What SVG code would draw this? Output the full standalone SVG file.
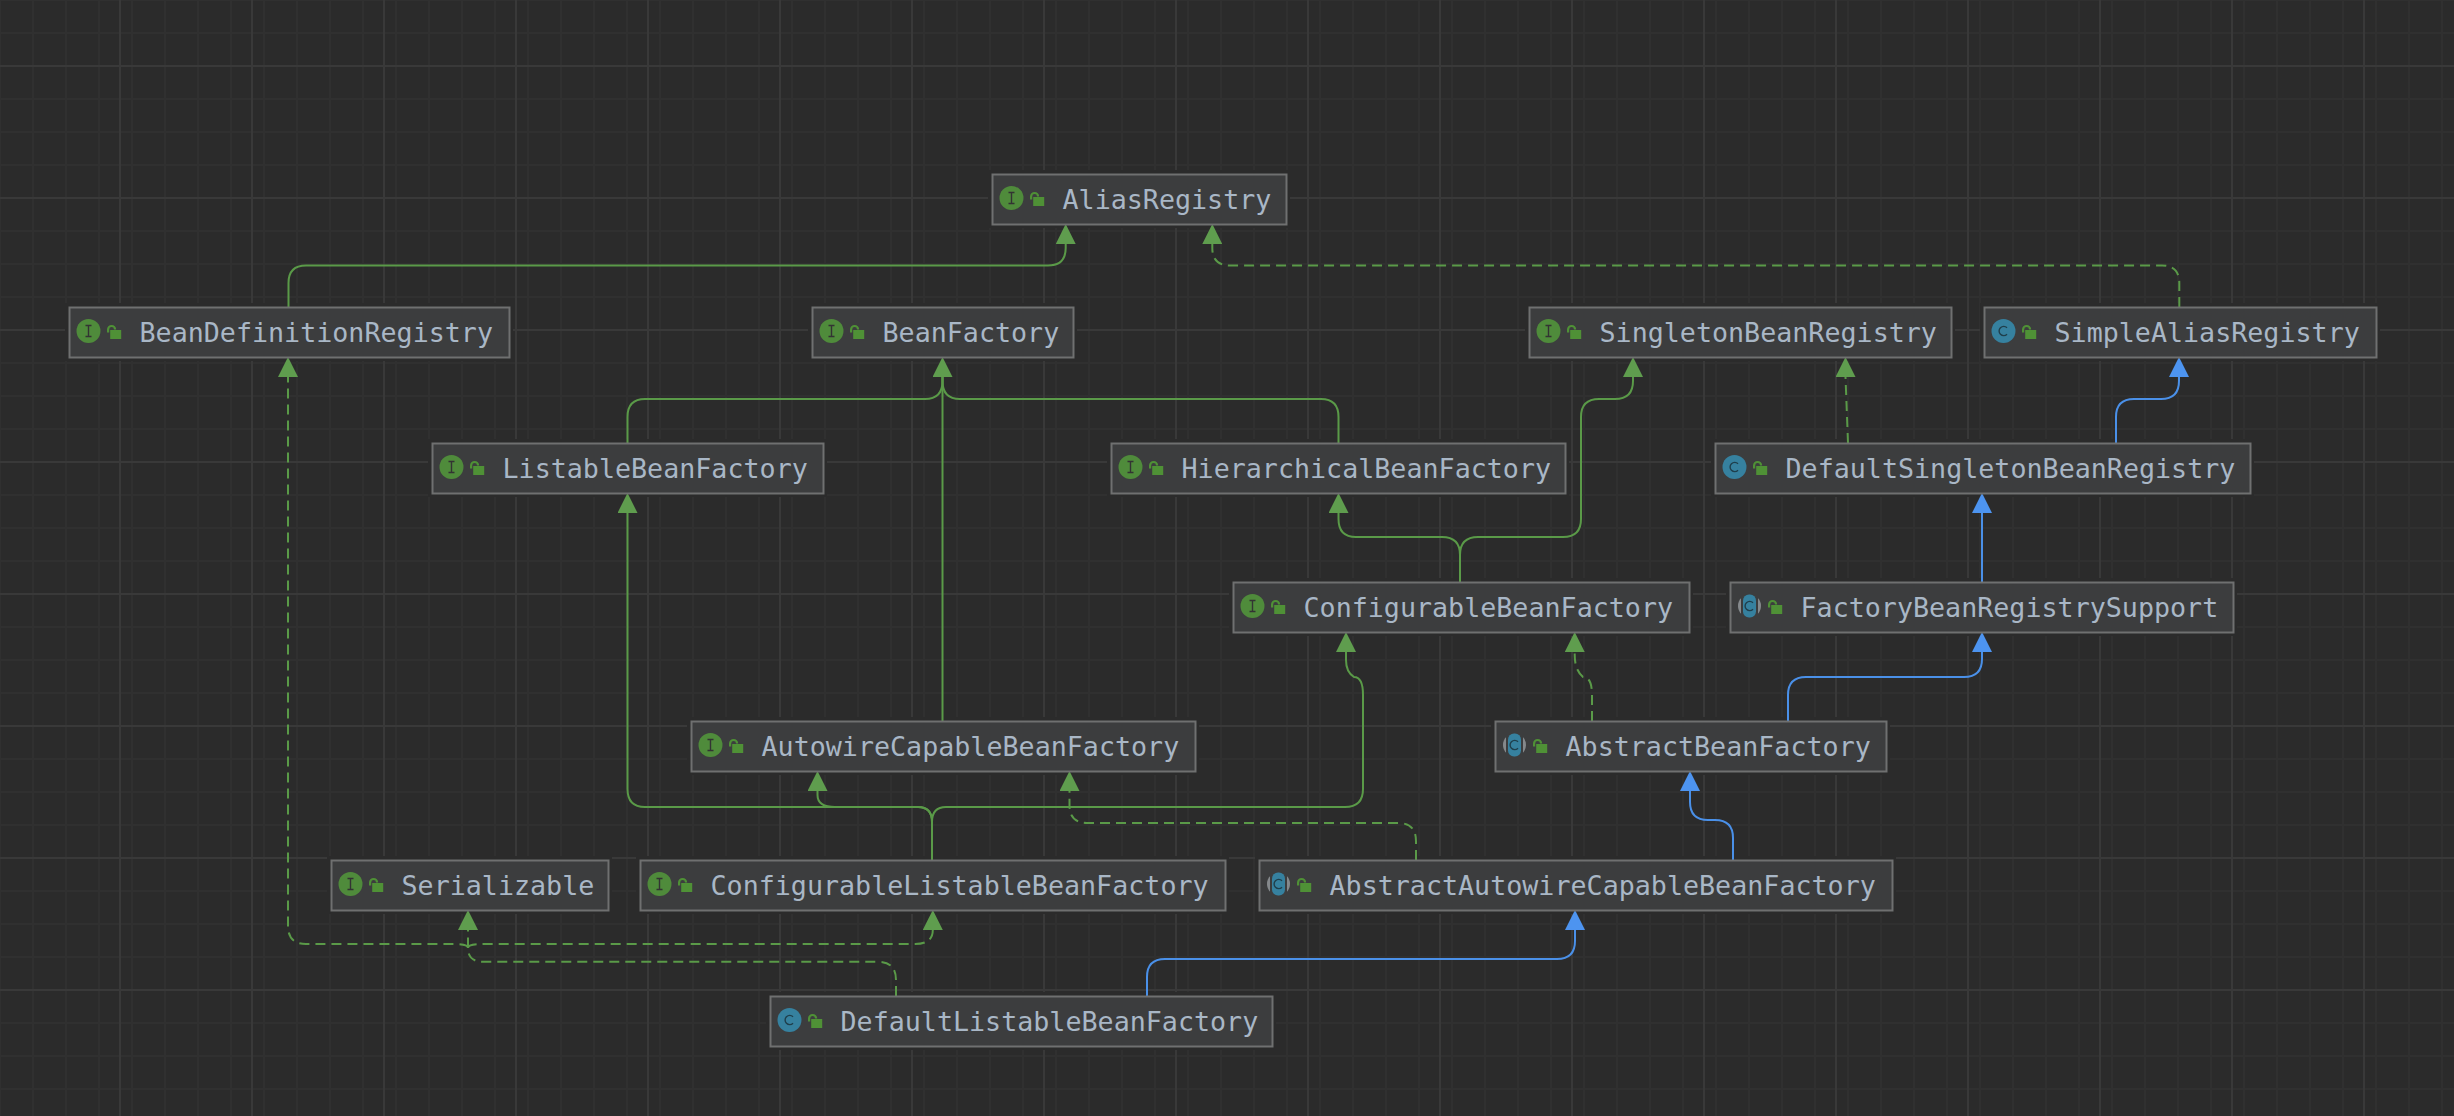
<svg xmlns="http://www.w3.org/2000/svg" width="2454" height="1116" viewBox="0 0 2454 1116">
<style>
.n{fill:#3c3d3e;stroke:#6f7070;stroke-width:2;transform:translate(.5px,.5px)}
.h{fill:#2b2b2b}
.t{font-family:"DejaVu Sans Mono","Liberation Mono",monospace;font-size:26.7px;fill:#a9b7c6}
.c{fill:none;stroke-width:2}
.g{stroke:#5a9a48}.b{stroke:#4a90e8}.d{stroke-dasharray:10 6}
.ag{marker-end:url(#ag)}.ab{marker-end:url(#ab)}
.lk{fill:#4f9136}.lks{fill:none;stroke:#4f9136;stroke-width:2.2}
.ci{fill:#4f8b3b}.cb{fill:#36819f}
</style>
<defs>
<pattern id="gr" width="132" height="132" patternUnits="userSpaceOnUse" x="-12" y="-66">
<path d="M12 0V132M45 0V132M78 0V132M111 0V132M0 0H132M0 33H132M0 66H132M0 99H132" fill="none" stroke="#303030" stroke-width="2"/>
</pattern>
<marker id="ag" markerUnits="userSpaceOnUse" markerWidth="20" markerHeight="20" refX="10" refY="20" viewBox="0 0 20 20" orient="0"><path d="M0 20L10 0L20 20Z" fill="#5f9d4e"/></marker>
<marker id="ab" markerUnits="userSpaceOnUse" markerWidth="20" markerHeight="20" refX="10" refY="20" viewBox="0 0 20 20" orient="0"><path d="M0 20L10 0L20 20Z" fill="#4d94f0"/></marker>
<g id="lock"><path class="lks" d="M1.100 7.500V4.500a3.500 3.500 0 0 1 7 0"/><rect class="lk" x="3.200" y="5" width="11" height="9"/></g>
<g id="ii"><circle class="ci" r="12"/><path d="M-3 -5.500H3M-3 5.500H3M0 -5.500V5.500" stroke="#333" stroke-width="1.400" fill="none"/></g>
<g id="cc"><circle class="cb" r="12"/><path d="M3.500 -3.200A4.600 4.600 0 1 0 3.500 3.200" stroke="#1f3f4c" stroke-width="1.400" fill="none"/></g>
<g id="ac"><circle r="11.500" fill="#85898c"/><rect x="-8.500" y="-12" width="17" height="24" fill="#3c3d3e"/><rect class="cb" x="-6.500" y="-11.500" width="13" height="23" rx="6"/><path d="M3.500 -3.200A4.600 4.600 0 1 0 3.500 3.200" stroke="#1f3f4c" stroke-width="1.400" fill="none"/></g>
</defs>
<rect width="2454" height="1116" fill="#2b2b2b"/>
<rect width="2454" height="1116" fill="url(#gr)"/>
<path fill="none" stroke="#393939" stroke-width="2" d="M120 0V1116M252 0V1116M384 0V1116M516 0V1116M648 0V1116M780 0V1116M912 0V1116M1044 0V1116M1176 0V1116M1308 0V1116M1440 0V1116M1572 0V1116M1704 0V1116M1836 0V1116M1968 0V1116M2100 0V1116M2232 0V1116M2364 0V1116M0 66H2454M0 198H2454M0 330H2454M0 462H2454M0 594H2454M0 726H2454M0 858H2454M0 990H2454"/>
<g id="halos" class="h">
<rect x="988" y="170" width="302" height="58"/><rect x="65" y="303" width="448" height="58"/><rect x="808" y="303" width="269" height="58"/><rect x="1525" y="303" width="430" height="58"/><rect x="1980" y="303" width="400" height="58"/><rect x="428" y="439" width="399" height="58"/><rect x="1107" y="439" width="462" height="58"/><rect x="1711" y="439" width="543" height="58"/><rect x="1229" y="578" width="464" height="58"/><rect x="1726" y="578" width="511" height="58"/><rect x="687" y="717" width="512" height="58"/><rect x="1491" y="717" width="399" height="58"/><rect x="327" y="856" width="285" height="58"/><rect x="636" y="856" width="593" height="58"/><rect x="1255" y="856" width="641" height="58"/><rect x="766" y="992" width="510" height="58"/>
</g>
<g id="connectors">
<path class="c g ag" d="M288.500 307V283Q288.500 265.500 306 265.500H1048Q1065.700 265.500 1065.700 248V244"/>
<path class="c g d ag" d="M2179.300 307V283Q2179.300 265.500 2162 265.500H1230Q1212.300 265.500 1212.300 248V244"/>
<path class="c g" d="M627.500 443V417Q627.500 399 645 399H925Q942.500 399 942.500 381V377"/>
<path class="c g" d="M1338.500 443V417Q1338.500 399 1321 399H960Q942.500 399 942.500 381V377"/>
<path class="c g ag" d="M942.500 721V377"/>
<path class="c g ag" d="M1460 582V555Q1460 537 1442 537H1356Q1338.500 537 1338.500 519V513"/>
<path class="c g ag" d="M1460 582V555Q1460 537 1478 537H1563Q1581 537 1581 519V417Q1581 399 1599 399H1615Q1633 399 1633 381V377"/>
<path class="c g d ag" d="M1848 443L1845.500 377"/>
<path class="c b ab" d="M2116 443V417Q2116 399 2134 399H2161Q2179 399 2179 381V377"/>
<path class="c b ab" d="M1982 582V513"/>
<path class="c b ab" d="M1788 721V695Q1788 677 1806 677H1964Q1982 677 1982 659V652"/>
<path class="c g d ag" d="M1592 721V695Q1592 677 1583 677Q1574.700 670 1574.700 655V652"/>
<path class="c b ab" d="M1733 860V838Q1733 820 1715 820H1708Q1690 820 1690 802V791"/>
<path class="c g d ag" d="M1416 860V841Q1416 823 1398 823H1087Q1069.500 823 1069.500 805V791"/>
<path class="c g ag" d="M932 860V822Q932 807 918 807H835Q817.500 807 817.500 795V791"/>
<path class="c g ag" d="M932 860V822Q932 807 918 807H645Q627.500 807 627.500 789V513"/>
<path class="c g ag" d="M932 860V822Q932 807 946 807H1345Q1363 807 1363 789V695Q1363 677 1354 677Q1346 672 1346 660V652"/>
<path class="c b ab" d="M1147 996V977Q1147 959 1165 959H1557Q1575 959 1575 941V930"/>
<path class="c g d ag" d="M896 996V980Q896 961.700 878 961.700H483Q468 961.700 468 948V930"/>
<path class="c g d ag" d="M468 948Q468 944 454 944H306Q288 944 288 926V377"/>
<path class="c g d ag" d="M468 948Q468 944 484 944H915Q932.800 944 932.800 930"/>
</g>
<g id="n-alias"><rect class="n" x="992" y="174" width="294" height="50"/><use href="#ii" x="1011.500" y="198"/><use href="#lock" x="1030" y="192"/><text class="t" x="1062.500" y="209">AliasRegistry</text></g>
<g id="n-bdr"><rect class="n" x="69" y="307" width="440" height="50"/><use href="#ii" x="88.500" y="331"/><use href="#lock" x="107" y="325"/><text class="t" x="139.500" y="342">BeanDefinitionRegistry</text></g>
<g id="n-bf"><rect class="n" x="812" y="307" width="261" height="50"/><use href="#ii" x="831.500" y="331"/><use href="#lock" x="850" y="325"/><text class="t" x="882.500" y="342">BeanFactory</text></g>
<g id="n-sbr"><rect class="n" x="1529" y="307" width="422" height="50"/><use href="#ii" x="1548.500" y="331"/><use href="#lock" x="1567" y="325"/><text class="t" x="1599.500" y="342">SingletonBeanRegistry</text></g>
<g id="n-sar"><rect class="n" x="1984" y="307" width="392" height="50"/><use href="#cc" x="2003.500" y="331"/><use href="#lock" x="2022" y="325"/><text class="t" x="2054.500" y="342">SimpleAliasRegistry</text></g>
<g id="n-lbf"><rect class="n" x="432" y="443" width="391" height="50"/><use href="#ii" x="451.500" y="467"/><use href="#lock" x="470" y="461"/><text class="t" x="502.500" y="478">ListableBeanFactory</text></g>
<g id="n-hbf"><rect class="n" x="1111" y="443" width="454" height="50"/><use href="#ii" x="1130.500" y="467"/><use href="#lock" x="1149" y="461"/><text class="t" x="1181.500" y="478">HierarchicalBeanFactory</text></g>
<g id="n-dsbr"><rect class="n" x="1715" y="443" width="535" height="50"/><use href="#cc" x="1734.500" y="467"/><use href="#lock" x="1753" y="461"/><text class="t" x="1785.500" y="478">DefaultSingletonBeanRegistry</text></g>
<g id="n-cbf"><rect class="n" x="1233" y="582" width="456" height="50"/><use href="#ii" x="1252.500" y="606"/><use href="#lock" x="1271" y="600"/><text class="t" x="1303.500" y="617">ConfigurableBeanFactory</text></g>
<g id="n-fbrs"><rect class="n" x="1730" y="582" width="503" height="50"/><use href="#ac" x="1749.500" y="606"/><use href="#lock" x="1768" y="600"/><text class="t" x="1800.500" y="617">FactoryBeanRegistrySupport</text></g>
<g id="n-acbf"><rect class="n" x="691" y="721" width="504" height="50"/><use href="#ii" x="710.500" y="745"/><use href="#lock" x="729" y="739"/><text class="t" x="761.500" y="756">AutowireCapableBeanFactory</text></g>
<g id="n-abf"><rect class="n" x="1495" y="721" width="391" height="50"/><use href="#ac" x="1514.500" y="745"/><use href="#lock" x="1533" y="739"/><text class="t" x="1565.500" y="756">AbstractBeanFactory</text></g>
<g id="n-ser"><rect class="n" x="331" y="860" width="277" height="50"/><use href="#ii" x="350.500" y="884"/><use href="#lock" x="369" y="878"/><text class="t" x="401.500" y="895">Serializable</text></g>
<g id="n-clbf"><rect class="n" x="640" y="860" width="585" height="50"/><use href="#ii" x="659.500" y="884"/><use href="#lock" x="678" y="878"/><text class="t" x="710.500" y="895">ConfigurableListableBeanFactory</text></g>
<g id="n-aacbf"><rect class="n" x="1259" y="860" width="633" height="50"/><use href="#ac" x="1278.500" y="884"/><use href="#lock" x="1297" y="878"/><text class="t" x="1329.500" y="895">AbstractAutowireCapableBeanFactory</text></g>
<g id="n-dlbf"><rect class="n" x="770" y="996" width="502" height="50"/><use href="#cc" x="789.500" y="1020"/><use href="#lock" x="808" y="1014"/><text class="t" x="840.500" y="1031">DefaultListableBeanFactory</text></g>
</svg>
